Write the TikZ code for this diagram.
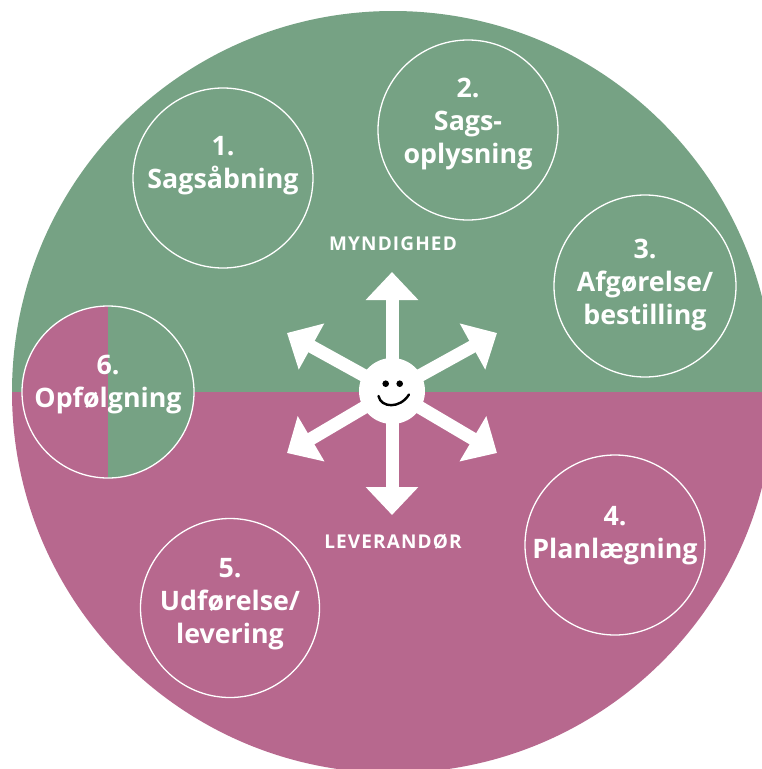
\documentclass[tikz,border=0pt]{standalone}
\usepackage{fontspec}
\setmainfont{Open Sans}
\newfontfamily\polefont[LetterSpace=6]{Open Sans Bold}
\usetikzlibrary{arrows.meta}
\definecolor{grn}{HTML}{76A284}
\definecolor{mag}{HTML}{B7688E}
\tikzset{
  ring/.style={circle,draw=white,line width=1.3pt,minimum size=#1,inner sep=0pt},
  phase/.style={inner sep=0pt,align=center,text=white,font=\fontsize{26.8pt}{33pt}\selectfont\bfseries},
  pole/.style={text=white,font=\fontsize{19pt}{22pt}\selectfont\polefont},
  spoke/.style={draw=white,line width=13pt,-{Triangle[width=51pt,length=28pt]}},
}
\begin{document}
\begin{tikzpicture}[x=1pt,y=-1pt]
\useasboundingbox (0,0) rectangle (762,769);
\begin{scope}
\clip (0,0) rectangle (762,769);
\begin{scope}
\clip (0,0) rectangle (800,392);
\fill[grn] (393,392) circle[radius=381];
\end{scope}
\begin{scope}
\clip (0,392) rectangle (800,800);
\fill[mag] (393,392) circle[radius=381];
\end{scope}
\begin{scope}
\clip (0,200) rectangle (108,600);
\fill[mag] (108,392) circle[radius=86];
\end{scope}
\begin{scope}
\clip (108,200) rectangle (300,600);
\fill[grn] (108,392) circle[radius=86];
\end{scope}
\node[ring=180pt] (n1) at (223,178) {};
\node[ring=180pt] (n2) at (468,130) {};
\node[ring=182pt] (n3) at (645,286) {};
\node[ring=180pt] (n4) at (615,545) {};
\node[ring=179pt] (n5) at (230,608) {};
\node[ring=172pt] (n6) at (108,392) {};
\node[phase] (t1) at (223,166) {1.\\Sagsåbning};
\node[phase] (t2) at (468,124) {2.\\Sags-\\oplysning};
\node[phase] (t3) at (645,285) {3.\\Afgørelse/\\bestilling};
\node[phase] (t4) at (615,536) {4.\\Planlægning};
\node[phase] (t5) at (230,604) {5.\\Udførelse/\\levering};
\node[phase] (t6) at (108,385) {6.\\Opfølgning};
\end{scope}
\node[pole] (myn) at (393,244) {MYNDIGHED};
\node[pole] (lev) at (393,542) {LEVERANDØR};
\node[circle,fill=white,minimum size=66pt,inner sep=0pt] (hub) at (392,391) {};
\coordinate (a1) at (392,272);
\coordinate (a2) at (497,333);
\coordinate (a3) at (497,453);
\coordinate (a4) at (392,515);
\coordinate (a5) at (287,453);
\coordinate (a6) at (287,333);
\foreach \t in {a1,a2,a3,a4,a5,a6} \draw[spoke] (hub.center) -- (\t);
\fill (385.7,383.7) circle[radius=3.3] (399.7,383.7) circle[radius=3.3];
\draw[line width=2.4pt,line cap=round] (378.5,396) .. controls (381,408) and (400,409) .. (409,394.5);
\end{tikzpicture}
\end{document}
